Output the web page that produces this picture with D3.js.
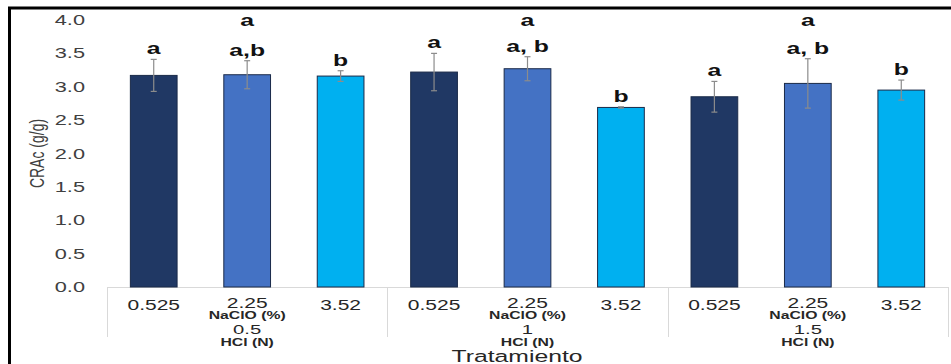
<html>
  <head>
    <meta charset="utf-8">
    <title>CRAc</title>
    <script src="https://d3js.org/d3.v7.min.js"></script>
    <style>
      body { margin: 0; background: #fff; }
      text { font-family: "Liberation Sans", Arial, sans-serif; }
    </style>
  </head>
  <body>
    <svg width="951" height="364"></svg>

    <script type="text/javascript">
      // data
      var hclLevels = ["0.5", "1", "1.5"];
      var nacloLevels = ["0.525", "2.25", "3.52"];
      var means = [3.17, 3.18, 3.16, 3.22, 3.27, 2.69, 2.85, 3.05, 2.95];
      var sds = [0.24, 0.21, 0.08, 0.28, 0.18, 0.01, 0.23, 0.37, 0.15];
      var barLetters = ["a", "a,b", "b", "a", "a, b", "b", "a", "a, b", "b"];
      var groupLetters = ["a", "a", "a"];
      var yTicks = [0, 0.5, 1, 1.5, 2, 2.5, 3, 3.5, 4];
      var barColors = ["#203864", "#4472c4", "#00b0f0"];

      var sx = 1.5; // the source picture is stretched sideways

      var dataset = [];
      hclLevels.forEach(function(h, gi) {
        nacloLevels.forEach(function(n, ni) {
          var i = gi * 3 + ni;
          dataset.push({key: gi + "-" + ni, group: gi, naclo: n, k: ni,
                        mean: means[i], sd: sds[i], letter: barLetters[i]});
        });
      });

      var margin = {left: 107, right: 3, top: 20};
      var plotBottom = 287;

      var xScale = d3.scaleBand().domain(dataset.map(d => d.key))
                     .range([margin.left, 951 - margin.right]).paddingInner(0.5).paddingOuter(0.25);
      var yScale = d3.scaleLinear().domain([0, 4]).range([plotBottom, margin.top]);
      var fmt = d3.format(".1f");
      var cx = d => xScale(d.key) + xScale.bandwidth() / 2;

      var svg = d3.select("svg");

      // frame
      svg.append("rect").attr("x", 9.5).attr("y", 8).attr("width", 960).attr("height", 360)
         .attr("fill", "none").attr("stroke", "#000").attr("stroke-width", 3);

      // y tick labels
      svg.selectAll(".ytick").data(yTicks).enter().append("text")
         .attr("transform", d => "translate(85," + (yScale(d) + 5) + ") scale(" + sx + ",1)")
         .attr("text-anchor", "end").attr("font-size", 14.5).attr("fill", "#404040")
         .text(d => fmt(d));

      svg.append("text")
         .attr("transform", "translate(44," + yScale(2) + ") rotate(-90) scale(1," + sx + ")")
         .attr("text-anchor", "middle").attr("font-size", 14).attr("fill", "#404040")
         .text("CRAc (g/g)");

      // baseline and group separators
      var x0 = xScale.range()[0], x1 = xScale.range()[1];
      svg.append("line").attr("x1", x0).attr("x2", x1).attr("y1", plotBottom + 0.5).attr("y2", plotBottom + 0.5)
         .attr("stroke", "#d9d9d9").attr("stroke-width", 1);
      var seps = [0, 1, 2, 3].map(g => x0 + (x1 - x0) * g / 3);
      svg.selectAll(".sep").data(seps).enter().append("line")
         .attr("x1", d => Math.round(d) + 0.5).attr("x2", d => Math.round(d) + 0.5)
         .attr("y1", plotBottom).attr("y2", plotBottom + 50)
         .attr("stroke", "#d9d9d9").attr("stroke-width", 1);

      // bars
      svg.selectAll(".bar").data(dataset).enter().append("rect")
         .attr("x", d => xScale(d.key)).attr("width", xScale.bandwidth())
         .attr("y", d => yScale(d.mean)).attr("height", d => plotBottom - yScale(d.mean))
         .attr("fill", d => barColors[d.k])
         .attr("stroke", "#1a2a48").attr("stroke-width", 1);

      // error bars
      var err = svg.selectAll(".err").data(dataset).enter().append("g")
          .attr("stroke", "#8c8c8c").attr("stroke-width", 1.2);
      err.append("line")
         .attr("x1", cx).attr("x2", cx)
         .attr("y1", d => yScale(d.mean + d.sd)).attr("y2", d => yScale(d.mean - d.sd));
      err.append("line")
         .attr("x1", d => cx(d) - 3).attr("x2", d => cx(d) + 3)
         .attr("y1", d => yScale(d.mean + d.sd)).attr("y2", d => yScale(d.mean + d.sd));
      err.append("line")
         .attr("x1", d => cx(d) - 3).attr("x2", d => cx(d) + 3)
         .attr("y1", d => yScale(d.mean - d.sd)).attr("y2", d => yScale(d.mean - d.sd));

      // significance letters
      svg.selectAll(".letter").data(dataset).enter().append("text")
         .attr("transform", d => "translate(" + cx(d) + "," + (yScale(d.mean + d.sd) - 5) + ") scale(" + sx + ",1)")
         .attr("text-anchor", "middle").attr("font-size", 16.5).attr("font-weight", "bold").attr("fill", "#111")
         .text(d => d.letter);

      svg.selectAll(".gletter").data(groupLetters).enter().append("text")
         .attr("transform", (d, i) => "translate(" + (xScale(i + "-1") + xScale.bandwidth() / 2) + ",26) scale(" + sx + ",1)")
         .attr("text-anchor", "middle").attr("font-size", 16.5).attr("font-weight", "bold").attr("fill", "#111")
         .text(d => d);

      // category labels
      svg.selectAll(".cat").data(dataset).enter().append("text")
         .attr("transform", d => "translate(" + cx(d) + "," + (d.k == 1 ? 308 : 310) + ") scale(" + sx + ",1)")
         .attr("text-anchor", "middle").attr("font-size", 14).attr("fill", "#262626")
         .text(d => d.naclo);

      var groups = svg.selectAll(".grp").data(hclLevels).enter().append("g")
          .attr("transform", (d, i) => "translate(" + (xScale(i + "-1") + xScale.bandwidth() / 2) + ",0)");
      groups.append("text").attr("transform", "translate(0,319) scale(" + sx + ",1)")
         .attr("text-anchor", "middle").attr("font-size", 10.5).attr("font-weight", "bold").attr("fill", "#262626")
         .text("NaClO (%)");
      groups.append("text").attr("transform", "translate(0,334) scale(" + sx + ",1)")
         .attr("text-anchor", "middle").attr("font-size", 13.5).attr("fill", "#262626")
         .text(d => d);
      groups.append("text").attr("transform", "translate(0,346) scale(" + sx + ",1)")
         .attr("text-anchor", "middle").attr("font-size", 10.5).attr("font-weight", "bold").attr("fill", "#262626")
         .text("HCl (N)");

      svg.append("text").attr("transform", "translate(517,362) scale(" + sx + ",1)")
         .attr("text-anchor", "middle").attr("font-size", 16.5).attr("fill", "#262626")
         .text("Tratamiento");
    </script>
  </body>
</html>
